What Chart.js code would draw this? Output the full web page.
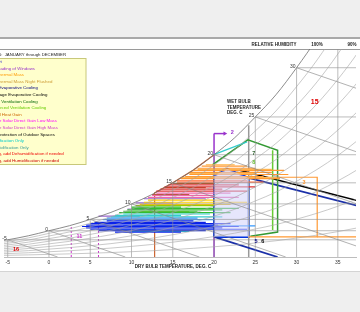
<!DOCTYPE html>
<html>
<head>
<meta charset="utf-8">
<script src="https://cdn.jsdelivr.net/npm/chart.js@4.4.0/dist/chart.umd.min.js"></script>
<style>
  html, body { margin: 0; padding: 0; background: #efefef; }
  #wrap { width: 360px; height: 312px; }
</style>
</head>
<body>
<div id="wrap"><canvas id="psy" width="360" height="312"></canvas></div>
<script>
// dry bulb (deg C) on x, humidity ratio (g/kg) on y
const xTicks = [-5, 0, 5, 10, 15, 20, 25, 30, 35]
const satTemps = [-7.5, -5, -2.5, 0, 2.5, 5, 7.5, 10, 12.5, 15, 17.5, 20, 22.5, 25, 27.5, 30, 32.5, 35, 37.5, 40]
const satRatio = [2.0, 2.48, 3.06, 3.79, 4.52, 5.42, 6.43, 7.66, 9.03, 10.7, 12.54, 14.75, 17.2, 20.2, 23.4, 27.3, 31.6, 36.6, 42.3, 49.0]
const rhLevels = [10, 20, 30, 40, 50, 60, 70, 80, 90]
const wetBulbs = [-5, 0, 5, 10, 15, 20, 25, 30]
const dryBulbGrid = [-5, 0, 5, 10, 15, 20, 25, 30, 35]
const wbSlope = 0.41

// hourly weather streaks: [humidity ratio, from temp, to temp]
const streaks = {
  '#0a22e8': [[5.0, 5.5, 19], [4.8, 5, 22], [4.6, 4.5, 20.5], [4.4, 4, 23], [4.2, 4.5, 21], [4.0, 5, 24], [3.8, 6, 19], [3.6, 8, 16], [5.2, 7, 17.5]],
  '#3399ff': [[5.4, 6.5, 20], [5.6, 7, 18], [3.9, 7, 13], [4.5, 9, 25]],
  '#33cccc': [[5.8, 7.5, 21], [6.0, 8, 16], [6.2, 9, 19.5], [3.7, 10, 17]],
  '#33bb33': [[6.4, 8.5, 22], [6.6, 9, 18], [6.8, 9.5, 21], [7.0, 10, 23], [7.2, 10, 16]],
  '#99cc00': [[7.4, 10.5, 20], [6.5, 11, 17]],
  '#ffcc00': [[7.6, 11, 22], [7.9, 11.5, 24], [8.2, 12, 21]],
  '#9966cc': [[8.4, 11.5, 19], [7.8, 10.5, 15], [5.9, 6, 11], [6.9, 9.5, 13]],
  '#ee66aa': [[8.6, 12, 23], [8.9, 12.5, 20], [9.2, 13, 22]],
  '#dd3333': [[9.5, 13, 24], [9.8, 13.5, 21], [10.1, 14, 25], [10.4, 14.5, 23]],
  '#aa5522': [[9.0, 12.5, 17], [10.0, 14, 19], [10.6, 15, 20]],
  '#ff6633': [[10.8, 15.5, 26], [11.0, 15.5, 24]],
  '#ff9933': [[11.3, 16, 28], [11.6, 16.5, 26], [11.9, 17, 29], [12.2, 17, 27], [12.5, 17.5, 28.5], [12.8, 18, 25], [13.1, 18.5, 24]],
  '#ffbb55': [[11.45, 16, 27.5], [12.05, 17, 25], [12.65, 18, 27], [13.3, 19, 22.5]],
}

// design strategy boundaries
const comfortZone = [[20, 2.9], [20, 11.7], [21.6, 12.7], [24.2, 11.4], [24.2, 2.9], [20, 2.9]]
const shadingLine = [[20, 0], [20, 17.8]]
const shadingArrow = [[20, 17.8], [21.3, 17.8]]
const massZone = [[24.2, 11.5], [32.5, 11.5], [32.5, 2.9], [24.2, 2.9]]
const nightFlushLine = [[32.5, 2.9], [38, 2.9]]
const evapTop = [[24.2, 11.4], [38, 7.2]]
const evapBottom = [[20, 2.9], [27.7, 0]]
const twoStageLine = [[23, 12.55], [38, 7.95]]
const ventZone = [[19.8, 13.3], [24.1, 16.9], [27.7, 15.4], [27.7, 3.6], [24.4, 3.0]]
const fanLine = [[27.1, 15.4], [27.1, 3.9]]
const humidLine = [[19.8, 14.7], [24, 16.6]]
const heatGainLine = [[12.8, 0], [12.8, 9.25], [15, 10.7], [17.5, 12.54], [20, 14.75]]
const solarLowMass = [[2.7, 0], [2.7, 4.6]]
const solarHighMass = [[6.0, 0], [6.0, 5.1]]

const zoneLabels = [
  ['2', 22.2, 17.9, '#9933cc'], ['7', 24.8, 15.0, '#336633'], ['8', 24.8, 13.7, '#66bb33'],
  ['5', 25.1, 2.2, '#000080'], ['6', 25.9, 2.2, '#000000'], ['3', 30.9, 10.7, '#ff9933'],
  ['15', 32.2, 22.4, '#dd0000'], ['16', -4.0, 1.15, '#dd0000'], ['11', 3.7, 3.0, '#cc33cc'],
]

const legendNames = [
  'Comfort', 'Sun Shading of Windows', 'High Thermal Mass', 'High Thermal Mass Night Flushed',
  'Direct Evaporative Cooling', 'Two-Stage Evaporative Cooling', 'Natural Ventilation Cooling',
  'Fan-Forced Ventilation Cooling', 'Internal Heat Gain', 'Passive Solar Direct Gain Low Mass',
  'Passive Solar Direct Gain High Mass', 'Wind Protection of Outdoor Spaces', 'Humidification Only',
  'Dehumidification Only', 'Cooling, add Dehumidification if needed', 'Heating, add Humidification if needed',
]
const legendColors = [
  '#0000cc', '#9933cc', '#ff9900', '#cc9933', '#000080', '#000000', '#006600', '#66cc00',
  '#cc6600', '#ff00ff', '#cc33cc', '#000000', '#00cccc', '#339999', '#ee0000', '#cc0000',
]

function satAt(t) {
  return satRatio[satTemps.indexOf(t)]
}

function seg(points, color, width, extra) {
  return Object.assign({
    data: points.map(([x, y]) => ({ x, y })),
    showLine: true,
    borderColor: color,
    borderWidth: width,
    pointRadius: 0,
    fill: false,
    tension: 0,
    clip: 0,
  }, extra)
}

const datasets = []

rhLevels.forEach((rh) => {
  datasets.push(seg(satTemps.map((t, i) => [t, satRatio[i] * rh / 100]), '#a4a4a4', 0.6, { cubicInterpolationMode: 'monotone' }))
})
dryBulbGrid.forEach((t) => datasets.push(seg([[t, 0], [t, satAt(t)]], '#8e8e8e', 0.6)))
wetBulbs.forEach((wb) => {
  const w = satAt(wb)
  datasets.push(seg([[wb, w], [wb + w / wbSlope, 0]], '#7e7e7e', 0.6))
  datasets.push(seg([[wb, w], [40, w]], '#8e8e8e', 0.6))
})
datasets.push(seg(satTemps.map((t, i) => [t, satRatio[i]]), '#6e6e6e', 0.8, { cubicInterpolationMode: 'monotone' }))

datasets.push(seg(comfortZone, 'rgba(0,0,0,0)', 0, { fill: 'shape', backgroundColor: 'rgba(210,210,250,0.55)' }))

Object.entries(streaks).forEach(([color, list]) => {
  list.forEach(([w, t1, t2]) => datasets.push(seg([[t1, w], [t2, w]], color, 1.2)))
})

datasets.push(seg(heatGainLine, '#cc6633', 1.2))
datasets.push(seg(solarLowMass, '#cc33cc', 1, { borderDash: [2, 2] }))
datasets.push(seg(solarHighMass, '#cc33cc', 1, { borderDash: [2, 2] }))
datasets.push(seg(massZone, '#ff9933', 1.2))
datasets.push(seg(nightFlushLine, '#ff9933', 1.2))
datasets.push(seg(humidLine, '#33cccc', 1.2))
datasets.push(seg(ventZone, '#339933', 1.5))
datasets.push(seg(fanLine, '#66cc33', 1.5))
datasets.push(seg(twoStageLine, '#000000', 1.5))
datasets.push(seg(evapTop, '#1a2fa8', 1.8))
datasets.push(seg(evapBottom, '#1a2fa8', 1.8))
datasets.push(seg([[24.2, 0], [24.2, 19]], '#999999', 1.5))
datasets.push(seg(comfortZone, '#0033dd', 2))
datasets.push(seg(shadingLine, '#9933cc', 1.5))
datasets.push(seg(shadingArrow, '#9933cc', 1.5, {
  pointRadius: [0, 2.5], pointStyle: 'triangle', rotation: 90, pointBackgroundColor: '#9933cc', pointBorderWidth: 0,
}))

const frame = {
  id: 'frame',
  beforeDraw(chart) {
    const { ctx, chartArea } = chart
    ctx.save()
    ctx.fillStyle = '#efefef'
    ctx.fillRect(0, 0, 360, 312)
    ctx.fillStyle = '#a9a9a9'
    ctx.fillRect(0, 37, 360, 2)
    ctx.fillStyle = '#ffffff'
    ctx.fillRect(0, 39, 360, 232)
    ctx.fillStyle = '#d4d4d4'
    ctx.fillRect(0, 271, 360, 1)
    ctx.fillStyle = '#9a9a9a'
    ctx.fillRect(0, chartArea.top, 360, 1)
    ctx.restore()
  },
  afterDatasetsDraw(chart) {
    const { ctx } = chart
    const px = (t) => chart.scales.x.getPixelForValue(t)
    const py = (w) => chart.scales.y.getPixelForValue(w)
    ctx.save()
    ctx.textBaseline = 'middle'

    // wet bulb labels on the saturation curve
    ctx.font = '5px "Liberation Sans", Arial, sans-serif'
    ctx.fillStyle = '#333333'
    ctx.textAlign = 'right'
    wetBulbs.forEach((wb) => ctx.fillText(String(wb), px(wb) - 1, py(satAt(wb)) - 1))

    // zone numbers
    ctx.textAlign = 'center'
    zoneLabels.forEach(([txt, t, w, color]) => {
      ctx.font = (txt === '15' ? 'bold 7px' : 'bold 5.5px') + ' "Liberation Sans", Arial, sans-serif'
      ctx.fillStyle = color
      ctx.fillText(txt, px(t), py(w))
    })

    // header and axis texts
    ctx.font = 'bold 4.5px "Liberation Sans", Arial, sans-serif'
    ctx.fillStyle = '#222222'
    ctx.fillText('RELATIVE HUMIDITY', 274, 45)
    ctx.fillText('100%', 317, 45)
    ctx.fillText('90%', 352, 45)
    ctx.fillText('DRY BULB TEMPERATURE, DEG. C', 173, 267)
    ctx.textAlign = 'left'
    ctx.fillText('WET BULB', 227, 102)
    ctx.fillText('TEMPERATURE', 227, 107.5)
    ctx.fillText('DEG. C', 227, 113)
    ctx.textAlign = 'right'
    ctx.font = '4.3px "Liberation Sans", Arial, sans-serif'
    ctx.fillText('DESIGN STRATEGIES:  JANUARY through DECEMBER', 66, 55)

    // strategy legend
    ctx.fillStyle = '#ffffcc'
    ctx.strokeStyle = '#c8c87a'
    ctx.lineWidth = 1
    ctx.fillRect(-2, 58.5, 88, 106)
    ctx.strokeRect(-2, 58.5, 88, 106)
    ctx.textAlign = 'left'
    ctx.font = '4.4px "Liberation Sans", Arial, sans-serif'
    legendNames.forEach((name, i) => {
      const y = 61.8 + i * 6.6
      ctx.fillStyle = legendColors[i]
      ctx.fillText(String(i + 1), -24, y)
      ctx.fillText(name, -14, y)
    })
    ctx.restore()
  },
}

new Chart(document.getElementById('psy'), {
  type: 'scatter',
  data: { datasets },
  options: {
    responsive: false,
    animation: false,
    devicePixelRatio: 1,
    layout: { padding: { top: 49, bottom: 41, left: 0, right: 0 } },
    plugins: { legend: { display: false }, tooltip: { enabled: false } },
    scales: {
      x: {
        type: 'linear',
        min: -5.45,
        max: 37.2,
        grid: { display: false, drawTicks: false },
        border: { display: true, color: '#bdbdbd' },
        ticks: { font: { size: 5, family: '"Liberation Sans", Arial' }, color: '#333333', padding: 3, maxRotation: 0 },
        afterBuildTicks: (scale) => { scale.ticks = xTicks.map((value) => ({ value })) },
        afterFit: (scale) => { scale.height = 14 },
      },
      y: { type: 'linear', min: 0, max: 30, display: false },
    },
  },
  plugins: [frame],
})
</script>
</body>
</html>
